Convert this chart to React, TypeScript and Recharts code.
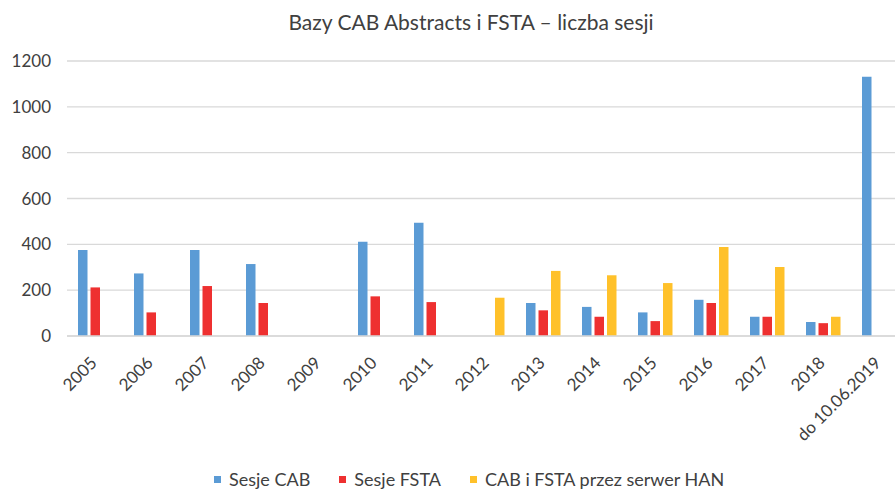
import { BarChart, Bar, XAxis, YAxis, CartesianGrid } from 'recharts'

const categories = ['2005', '2006', '2007', '2008', '2009', '2010', '2011', '2012', '2013', '2014', '2015', '2016', '2017', '2018', 'do 10.06.2019']
const sesjeCab = [375, 273, 375, 314, null, 411, 494, null, 144, 127, 103, 158, 84, 61, 1131]
const sesjeFsta = [212, 103, 218, 144, null, 173, 148, null, 112, 84, 65, 144, 84, 56, null]
const sesjeHan = [null, null, null, null, null, null, null, 167, 284, 265, 231, 388, 301, 84, null]
const yTicks = [0, 200, 400, 600, 800, 1000, 1200]

const series = [
  { key: 'cab', name: 'Sesje CAB', color: '#5B9BD5' },
  { key: 'fsta', name: 'Sesje FSTA', color: '#EE3030' },
  { key: 'han', name: 'CAB i FSTA przez serwer HAN', color: '#FFC12A' },
]

const data = categories.map((c, i) => ({
  name: c,
  cab: sesjeCab[i],
  fsta: sesjeFsta[i],
  han: sesjeHan[i],
}))

const font = 'Lato, "Open Sans", sans-serif'
const textColor = '#404040'

function XTick({ x, y, payload }: { x?: number; y?: number; payload?: { value: string } }) {
  const px = (x ?? 0) + 3
  const py = (y ?? 0) + 28
  return (
    <text x={px} y={py} textAnchor="end" transform={`rotate(-45, ${px}, ${py})`} fill={textColor} fontSize={17} fontFamily={font}>
      {payload?.value}
    </text>
  )
}

export default function App() {
  return (
    <div style={{ position: 'absolute', left: 0, top: 0, width: 895, height: 490, overflow: 'hidden', background: '#fff', fontFamily: font }}>
      <div style={{ position: 'absolute', top: 9, left: 0, width: 942, textAlign: 'center', fontSize: 21, color: textColor }}>
        Bazy CAB Abstracts i FSTA – liczba sesji
      </div>
      <BarChart width={915} height={490} data={data} margin={{ top: 61, right: 8, left: 0, bottom: 0 }} barSize={9.5} barGap={3}>
        <CartesianGrid vertical={false} stroke="#D9D9D9" strokeWidth={1.3} />
        <XAxis
          dataKey="name"
          interval={0}
          height={154}
          tick={<XTick />}
          tickLine={false}
          tickSize={0}
          tickMargin={0}
          axisLine={{ stroke: '#D9D9D9', strokeWidth: 1.3 }}
        />
        <YAxis
          width={67}
          domain={[0, 1200]}
          ticks={yTicks}
          axisLine={false}
          tickLine={false}
          tickSize={0}
          tickMargin={16}
          tick={{ fill: textColor, fontSize: 17, fontFamily: font }}
        />
        {series.map((s) => (
          <Bar key={s.key} dataKey={s.key} name={s.name} fill={s.color} isAnimationActive={false} />
        ))}
      </BarChart>
      <div style={{ position: 'absolute', top: 468, left: 214, display: 'flex', alignItems: 'center', fontSize: 18, color: textColor, whiteSpace: 'nowrap' }}>
        {series.map((s, i) => (
          <div key={s.key} style={{ display: 'flex', alignItems: 'center', marginLeft: i === 0 ? 0 : 29 }}>
            <span style={{ display: 'inline-block', width: 7, height: 7, background: s.color, marginRight: 8 }} />
            <span>{s.name}</span>
          </div>
        ))}
      </div>
    </div>
  )
}
